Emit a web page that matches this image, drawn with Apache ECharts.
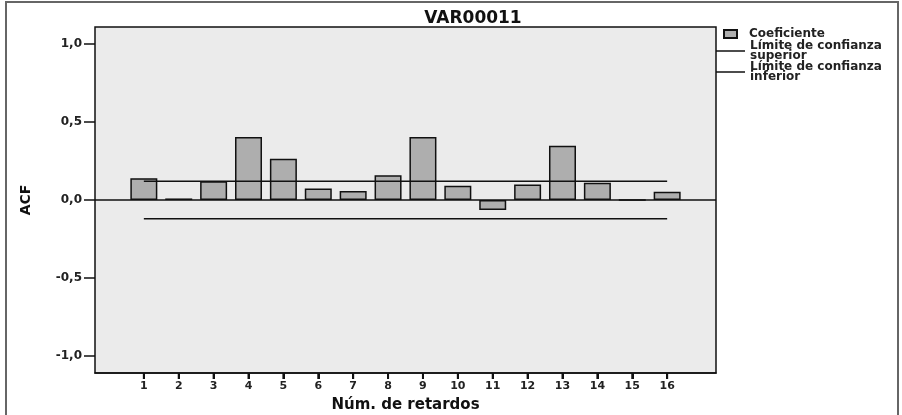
<!DOCTYPE html>
<html>
<head>
<meta charset="utf-8">
<script src="https://cdn.jsdelivr.net/npm/echarts@6/dist/echarts.min.js"></script>
<style>
html,body{margin:0;padding:0;background:#fff;}
#c{width:902px;height:415px;}
</style>
</head>
<body>
<div id="c"></div>
<script>
const lags = [1,2,3,4,5,6,7,8,9,10,11,12,13,14,15,16];
const acf = [0.14,0.01,0.12,0.405,0.265,0.073,0.058,0.158,0.405,0.092,-0.064,0.10,0.348,0.111,0.0,0.053];
const upperLimit = [0.12,0.12,0.12,0.12,0.12,0.12,0.12,0.12,0.12,0.12,0.12,0.12,0.12,0.12,0.12,0.12];
const lowerLimit = [-0.12,-0.12,-0.12,-0.12,-0.12,-0.12,-0.12,-0.12,-0.12,-0.12,-0.12,-0.12,-0.12,-0.12,-0.12,-0.12];
const yTicks = [-1,-0.5,0,0.5,1];
const titleText = 'VAR00011';
const xName = 'Núm. de retardos';
const yName = 'ACF';
const sCoef = 'Coeficiente';
const sUp = 'Límite de confianza superior';
const sLo = 'Límite de confianza inferior';

const FONT = 'DejaVu Sans';
const X_MIN = -0.4, X_MAX = 17.4, Y_MIN = -1.11, Y_MAX = 1.11;
const chart = echarts.init(document.getElementById('c'), null, {renderer:'canvas'});
chart.setOption({
  animation:false,
  backgroundColor:'#fff',
  title:{
    text:titleText, left:473, top:10, textAlign:'center', padding:0,
    textStyle:{fontFamily:FONT, fontSize:17, fontWeight:'bold', color:'#111'}
  },
  graphic:[{
    type:'rect', silent:true, z:-1,
    shape:{x:6, y:2, width:892, height:430},
    style:{fill:'none', stroke:'#666', lineWidth:2}
  }],
  legend:[{
    data:[{name:sCoef, icon:'rect'}],
    left:723, top:28, orient:'vertical', padding:0,
    itemWidth:13, itemHeight:8,
    textStyle:{fontFamily:FONT, fontSize:12, fontWeight:'bold', color:'#222', padding:[0,0,0,7]}
  },{
    data:[{name:sUp, icon:'rect', itemStyle:{color:'#111'}}, {name:sLo, icon:'rect', itemStyle:{color:'#111'}}],
    left:716, top:40, orient:'vertical', itemGap:-1, padding:0,
    itemWidth:29, itemHeight:1.5,
    formatter:function(n){ return n.replace(/ (superior|inferior)$/, '\n$1'); },
    textStyle:{fontFamily:FONT, fontSize:12, fontWeight:'bold', color:'#222', lineHeight:10}
  }],
  grid:{
    left:95, top:27, right:186, bottom:42, show:true, outerBoundsMode:'none', containLabel:false,
    backgroundColor:'#ebebeb', borderColor:'#111', borderWidth:1.5
  },
  xAxis:{
    type:'value', min:X_MIN, max:X_MAX,
    name:xName, nameLocation:'middle', nameGap:25,
    nameTextStyle:{fontFamily:FONT, fontSize:15, fontWeight:'bold', color:'#111'},
    axisLine:{show:true, onZero:false, lineStyle:{color:'#111', width:1.5}},
    splitLine:{show:false},
    axisTick:{show:true, customValues:lags, length:6, lineStyle:{color:'#111', width:2}},
    axisLabel:{customValues:lags, margin:8, fontFamily:FONT, fontSize:11, fontWeight:'bold', color:'#222'}
  },
  yAxis:{
    type:'value', min:Y_MIN, max:Y_MAX,
    name:yName, nameLocation:'middle', nameGap:62, nameRotate:90,
    nameTextStyle:{fontFamily:FONT, fontSize:14, fontWeight:'bold', color:'#111'},
    axisLine:{show:false, onZero:false},
    splitLine:{show:false},
    axisTick:{show:true, customValues:yTicks, length:11, lineStyle:{color:'#111', width:1.5}},
    axisLabel:{customValues:yTicks, margin:13, fontFamily:FONT, fontSize:12, fontWeight:'bold', color:'#222',
      formatter:function(v){ return v.toFixed(1).replace('.', ','); }}
  },
  series:[{
    name:sCoef, type:'bar', barWidth:27,
    data:lags.map((l,i)=>[l, acf[i]]),
    itemStyle:{color:'#aeaeae', borderColor:'#111', borderWidth:1.5},
    markLine:{
      silent:true, symbol:'none', label:{show:false},
      lineStyle:{color:'#111', width:1.5, type:'solid'},
      data:[{yAxis:0}]
    },
    z:2
  },{
    name:sUp, type:'line', symbol:'none', itemStyle:{color:'#111'},
    data:lags.map((l,i)=>[l, upperLimit[i]]),
    lineStyle:{color:'#111', width:1.5}, z:3
  },{
    name:sLo, type:'line', symbol:'none', itemStyle:{color:'#111'},
    data:lags.map((l,i)=>[l, lowerLimit[i]]),
    lineStyle:{color:'#111', width:1.5}, z:3
  }]
});
// x-axis tick marks placed through the library's own scale
const tickMarks = lags.map(function(l){
  const p = chart.convertToPixel({xAxisIndex:0, yAxisIndex:0}, [l, Y_MIN]);
  return {type:'line', silent:true, z:10,
    shape:{x1:p[0], y1:p[1], x2:p[0], y2:p[1]+6},
    style:{stroke:'#111', lineWidth:2}};
});
chart.setOption({graphic:[{
    type:'rect', silent:true, z:-1,
    shape:{x:6, y:2, width:892, height:430},
    style:{fill:'none', stroke:'#666', lineWidth:2}
  }].concat(tickMarks)});
</script>
</body>
</html>
